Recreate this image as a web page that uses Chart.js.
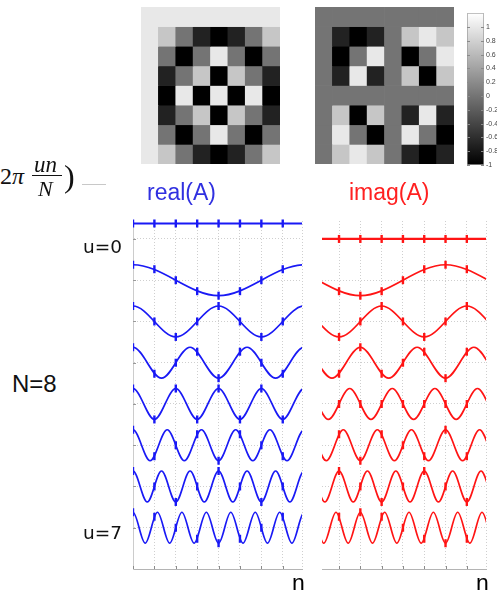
<!DOCTYPE html>
<html><head><meta charset="utf-8">
<script src="https://cdn.jsdelivr.net/npm/chart.js@4"></script>
<style>
html,body{margin:0;padding:0;width:497px;height:590px;overflow:hidden;background:#fff;}
canvas{position:absolute;}
.t{position:absolute;white-space:nowrap;line-height:1;}
</style></head><body>
<canvas id="reImg" width="139" height="157" style="left:141px;top:7px"></canvas>
<canvas id="imImg" width="139" height="157" style="left:315px;top:7px"></canvas>
<canvas id="cbar" width="40" height="166" style="left:467px;top:7px"></canvas>
<canvas id="reWave" width="195" height="375" style="left:120px;top:210px"></canvas>
<canvas id="imWave" width="185" height="375" style="left:312px;top:210px"></canvas>

<div class="t" style="left:0px;top:163px;font:24px 'Liberation Serif';color:#111">2<i>π</i></div>
<div class="t" style="left:34px;top:152px;font:italic 23px 'Liberation Serif';color:#111">un</div>
<div style="position:absolute;left:32px;top:175px;width:30px;height:1.2px;background:#111"></div>
<div class="t" style="left:38px;top:176px;font:italic 22px 'Liberation Serif';color:#111">N</div>
<div class="t" style="left:64px;top:158px;font:32px 'Liberation Serif';color:#111">)</div>
<div style="position:absolute;left:82px;top:184px;width:24px;height:1px;background:#c8c8c8"></div>

<div class="t" style="left:147px;top:178.5px;font:23px 'Liberation Sans';color:#3030e0">real(A)</div>
<div class="t" style="left:349px;top:178.5px;font:23px 'Liberation Sans';color:#ff2020">imag(A)</div>
<div class="t" style="left:83px;top:236px;font:18.5px 'DejaVu Sans';color:#111">u=0</div>
<div class="t" style="left:83px;top:522px;font:18.5px 'DejaVu Sans';color:#111">u=7</div>
<div class="t" style="left:12px;top:370px;font:24px 'Liberation Sans';color:#111">N=8</div>
<div class="t" style="left:292px;top:569.5px;font:23px 'Liberation Sans';color:#000">n</div>
<div class="t" style="left:476px;top:569.5px;font:23px 'Liberation Sans';color:#000">n</div>

<script>
// ---------- data ----------
const nLabels = ['0','1','2','3','4','5','6','7'];
const uLabels = ['u=0','u=1','u=2','u=3','u=4','u=5','u=6','u=7'];
const cellSpan = [1,1,1,1,1,1,1,1];

// real(A) samples, row u, column n
const realSamples = [
  [1, 1, 1, 1, 1, 1, 1, 1],
  [1, 0.71, 0, -0.71, -1, -0.71, 0, 0.71],
  [1, 0, -1, 0, 1, 0, -1, 0],
  [1, -0.71, 0, 0.71, -1, 0.71, 0, -0.71],
  [1, -1, 1, -1, 1, -1, 1, -1],
  [1, -0.71, 0, 0.71, -1, 0.71, 0, -0.71],
  [1, 0, -1, 0, 1, 0, -1, 0],
  [1, 0.71, 0, -0.71, -1, -0.71, 0, 0.71]
];
// imag(A) samples
const imagSamples = [
  [0, 0, 0, 0, 0, 0, 0, 0],
  [0, -0.71, -1, -0.71, 0, 0.71, 1, 0.71],
  [0, -1, 0, 1, 0, -1, 0, 1],
  [0, -0.71, 1, -0.71, 0, 0.71, -1, 0.71],
  [0, 0, 0, 0, 0, 0, 0, 0],
  [0, 0.71, -1, 0.71, 0, -0.71, 1, -0.71],
  [0, 1, 0, -1, 0, 1, 0, -1],
  [0, 0.71, 1, 0.71, 0, -0.71, -1, -0.71]
];

// crests / troughs of the continuous real curves [n, value]
const realCurve0 = [[-1,1],[9,1]];
const realCurve1 = [[-4,-1],[0,1],[4,-1],[8,1],[12,-1]];
const realCurve2 = [[-2,-1],[0,1],[2,-1],[4,1],[6,-1],[8,1],[10,-1]];
const realCurve3 = [[-1.333,-1],[0,1],[1.333,-1],[2.667,1],[4,-1],[5.333,1],[6.667,-1],[8,1],[9.333,-1]];
const realCurve4 = [[-1,-1],[0,1],[1,-1],[2,1],[3,-1],[4,1],[5,-1],[6,1],[7,-1],[8,1],[9,-1]];
const realCurve5 = [[-0.8,-1],[0,1],[0.8,-1],[1.6,1],[2.4,-1],[3.2,1],[4,-1],[4.8,1],[5.6,-1],[6.4,1],[7.2,-1],[8,1],[8.8,-1]];
const realCurve6 = [[-0.667,-1],[0,1],[0.667,-1],[1.333,1],[2,-1],[2.667,1],[3.333,-1],[4,1],[4.667,-1],[5.333,1],[6,-1],[6.667,1],[7.333,-1],[8,1],[8.667,-1]];
const realCurve7 = [[-0.571,-1],[0,1],[0.571,-1],[1.143,1],[1.714,-1],[2.286,1],[2.857,-1],[3.429,1],[4,-1],[4.571,1],[5.143,-1],[5.714,1],[6.286,-1],[6.857,1],[7.429,-1],[8,1],[8.571,-1]];

// crests / troughs of the continuous imaginary curves [n, value]
const imagCurve0 = [[-1,0],[9,0]];
const imagCurve1 = [[-6,-1],[-2,1],[2,-1],[6,1],[10,-1],[14,1]];
const imagCurve2 = [[-3,-1],[-1,1],[1,-1],[3,1],[5,-1],[7,1],[9,-1],[11,1]];
const imagCurve3 = [[-2,-1],[-0.667,1],[0.667,-1],[2,1],[3.333,-1],[4.667,1],[6,-1],[7.333,1],[8.667,-1],[10,1]];
const imagCurve4 = [[-1.5,-1],[-0.5,1],[0.5,-1],[1.5,1],[2.5,-1],[3.5,1],[4.5,-1],[5.5,1],[6.5,-1],[7.5,1],[8.5,-1],[9.5,1]];
const imagCurve5 = [[-1.2,-1],[-0.4,1],[0.4,-1],[1.2,1],[2,-1],[2.8,1],[3.6,-1],[4.4,1],[5.2,-1],[6,1],[6.8,-1],[7.6,1],[8.4,-1],[9.2,1]];
const imagCurve6 = [[-1,-1],[-0.333,1],[0.333,-1],[1,1],[1.667,-1],[2.333,1],[3,-1],[3.667,1],[4.333,-1],[5,1],[5.667,-1],[6.333,1],[7,-1],[7.667,1],[8.333,-1],[9,1]];
const imagCurve7 = [[-0.857,-1],[-0.286,1],[0.286,-1],[0.857,1],[1.429,-1],[2,1],[2.571,-1],[3.143,1],[3.714,-1],[4.286,1],[4.857,-1],[5.429,1],[6,-1],[6.571,1],[7.143,-1],[7.714,1],[8.286,-1],[8.857,1]];

const realCurves = [realCurve0, realCurve1, realCurve2, realCurve3, realCurve4, realCurve5, realCurve6, realCurve7];
const imagCurves = [imagCurve0, imagCurve1, imagCurve2, imagCurve3, imagCurve4, imagCurve5, imagCurve6, imagCurve7];

const xGridTicks = [0, 1, 2, 3, 4, 5, 6, 7, 7.9];
const colorbarTicks = [1, 0.8, 0.6, 0.4, 0.2, 0, -0.2, -0.4, -0.6, -0.8, -1];

// ---------- layout / style ----------
const ROW_GAP = 2.665;
const BLUE = 'rgb(25,25,245)';
const RED = 'rgb(255,20,20)';

function grayOf(v) {
  const g = Math.round(116 * (v + 1));
  return 'rgb(' + g + ',' + g + ',' + g + ')';
}

const innerTicks = {
  id: 'innerTicks',
  afterDraw(chart, args, opts) {
    if (!opts || !opts.items) return;
    const {ctx, chartArea: a} = chart;
    ctx.save();
    ctx.lineWidth = 1;
    opts.items.forEach(it => {
      const s = chart.scales[it.axis];
      ctx.strokeStyle = it.color;
      s.ticks.forEach(t => {
        if (it.skip && it.skip.includes(t.value)) return;
        const p = Math.round(s.getPixelForValue(t.value)) + 0.5;
        ctx.beginPath();
        if (s.isHorizontal()) {
          if (p < a.left - 1 || p > a.right + 1) return;
          ctx.moveTo(p, a.bottom); ctx.lineTo(p, a.bottom - it.len);
        } else {
          if (it.left) { ctx.moveTo(a.left, p); ctx.lineTo(a.left + it.len, p); }
          if (it.right) { ctx.moveTo(a.right, p); ctx.lineTo(a.right - it.len, p); }
        }
        ctx.stroke();
      });
    });
    ctx.restore();
  }
};

const base = {
  responsive: false, animation: false, devicePixelRatio: 1, events: [],
  plugins: {legend: {display: false}, tooltip: {enabled: false}}
};

function heatmap(id, matrix) {
  new Chart(document.getElementById(id), {
    type: 'bar',
    data: {
      labels: nLabels,
      datasets: matrix.map((row, u) => ({
        label: uLabels[u],
        data: cellSpan,
        backgroundColor: row.map(grayOf),
        borderWidth: 0,
        barPercentage: 1,
        categoryPercentage: 1
      }))
    },
    options: Object.assign({}, base, {
      layout: {padding: 0},
      scales: {
        x: {stacked: true, display: false},
        y: {stacked: true, display: false, reverse: true, min: 0, max: 8}
      }
    })
  });
}

heatmap('reImg', realSamples);
heatmap('imImg', imagSamples);

// colorbar
new Chart(document.getElementById('cbar'), {
  type: 'bar',
  data: {
    labels: [''],
    datasets: [{
      data: [[-1, 1.2]],
      backgroundColor: (c) => {
        const a = c.chart.chartArea;
        if (!a) return '#888';
        const g = c.chart.ctx.createLinearGradient(0, a.bottom, 0, a.top);
        g.addColorStop(0, grayOf(-1));
        g.addColorStop(1, grayOf(1.2));
        return g;
      },
      borderColor: '#9a9a9a',
      borderWidth: 1,
      borderSkipped: false,
      barPercentage: 1,
      categoryPercentage: 1
    }]
  },
  options: Object.assign({}, base, {
    layout: {padding: {top: 0, bottom: 8, left: 0, right: 0}},
    plugins: Object.assign({}, base.plugins, {
      innerTicks: {items: [{axis: 'y', len: 3, left: true, right: true, color: '#8a8a8a'}]}
    }),
    scales: {
      x: {display: false},
      y: {
        position: 'right', min: -1, max: 1.2,
        afterBuildTicks: (s) => { s.ticks = colorbarTicks.map(v => ({value: v})); },
        afterFit: (s) => { s.width = 23; },
        grid: {display: false, drawTicks: false},
        border: {display: false},
        ticks: {padding: 2, color: '#444', font: {family: 'Liberation Sans', size: 7}, callback: (v) => String(v)}
      }
    }
  }),
  plugins: [innerTicks]
});

function wavePanel(id, samples, curves, color, xmin, showLeft) {
  const datasets = [];
  curves.forEach((pts, u) => datasets.push({
    label: uLabels[u],
    data: pts.map(p => ({x: p[0], y: p[1] - u * ROW_GAP})),
    borderColor: color, borderWidth: u === 0 ? 2.2 : 1.7, pointRadius: 0,
    cubicInterpolationMode: 'monotone', fill: false,
    clip: {left: 0, right: 0, top: 8, bottom: 8}
  }));
  samples.forEach((row, u) => datasets.push({
    label: uLabels[u] + ' samples',
    data: row.map((v, n) => ({x: n, y: v - u * ROW_GAP})),
    showLine: false, pointStyle: 'line', pointRotation: 90, pointRadius: 4,
    pointBorderWidth: 2.4, pointBorderColor: color, pointBackgroundColor: color,
    clip: {left: 0, right: 2, top: 8, bottom: 8}
  }));
  const tickItems = [{axis: 'x', len: 3, color: '#8a8a8a', skip: [7.9]}];
  if (showLeft) tickItems.push({axis: 'y', len: 3, left: true, color: '#9a9a9a'});
  new Chart(document.getElementById(id), {
    type: 'line',
    data: {datasets},
    options: Object.assign({}, base, {
      layout: {padding: {left: id === 'reWave' ? 13 : 10, right: id === 'reWave' ? 13 : 11, top: 11, bottom: 16}},
      plugins: Object.assign({}, base.plugins, {innerTicks: {items: tickItems}}),
      scales: {
        x: {
          type: 'linear', min: xmin, max: 7.9,
          afterBuildTicks: (s) => { s.ticks = xGridTicks.filter(v => v >= xmin).map(v => ({value: v})); },
          ticks: {display: false},
          grid: {color: '#cfcfcf', lineWidth: 1, drawTicks: false},
          border: {display: true, color: '#b4b4b4', width: 1, dash: [1, 2]}
        },
        y: {
          min: -8 * ROW_GAP, max: 1.16,
          afterBuildTicks: (s) => { s.ticks = [0,1,2,3,4,5,6,7].map(u => ({value: -u * ROW_GAP})); },
          ticks: {display: false},
          grid: {color: '#cfcfcf', lineWidth: 1, drawTicks: false},
          border: {display: showLeft, color: '#cccccc', width: 1, dash: [1, 2]}
        }
      }
    }),
    plugins: [innerTicks]
  });
}

wavePanel('reWave', realSamples, realCurves, BLUE, 0, true);
wavePanel('imWave', imagSamples, imagCurves, RED, 0.2, false);
</script>
</body></html>
